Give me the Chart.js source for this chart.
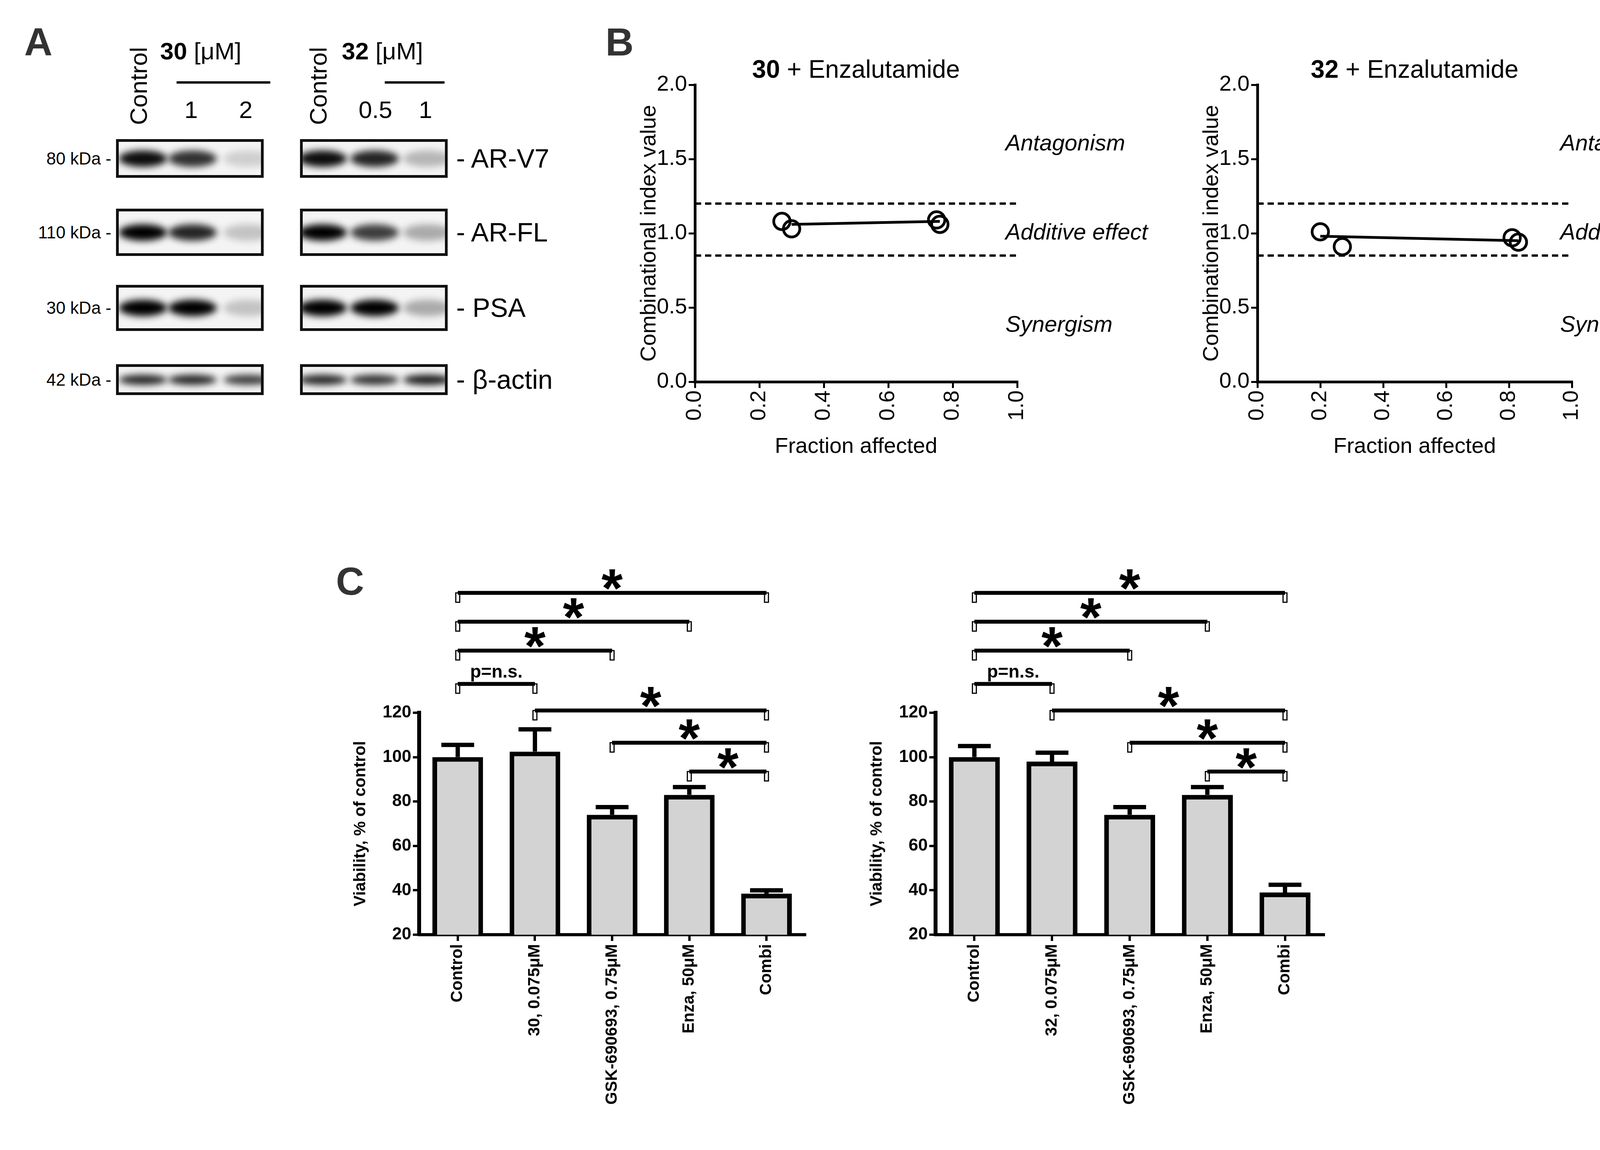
<!DOCTYPE html>
<html>
<head>
<meta charset="utf-8">
<script src="https://cdn.jsdelivr.net/npm/chart.js@4.4.1/dist/chart.umd.min.js"></script>
<style>
  body { margin: 0; width: 4406px; height: 2943px; background: #fff; position: relative; overflow: hidden;
         font-family: "Liberation Sans", Arial, sans-serif; color: #000; }
  .abs { position: absolute; white-space: nowrap; }
  canvas { position: absolute; }
  .box { position: absolute; border: 7px solid #111; background: #f4f4f4; overflow: hidden; box-sizing: border-box; }
  .band { position: absolute; border-radius: 50%; filter: blur(9px); }
</style>
</head>
<body>
<script>
// ============================================
// DATA
// ============================================
// Panel B - combination index
const ciFa30 = [0.27, 0.30, 0.75, 0.76];
const ciVal30 = [1.08, 1.03, 1.09, 1.06];
const ciFitFa30 = [0.30, 0.76];
const ciFitVal30 = [1.06, 1.08];
const ciFa32 = [0.20, 0.27, 0.81, 0.83];
const ciVal32 = [1.01, 0.91, 0.97, 0.94];
const ciFitFa32 = [0.20, 0.83];
const ciFitVal32 = [0.98, 0.95];
const ciBounds = [1.2, 0.85];
const ciTicksY = [0, 0.5, 1.0, 1.5, 2.0];

// Panel C - viability
const viabLabels30 = ['Control', '30, 0.075\u03BCM', 'GSK-690693, 0.75\u03BCM', 'Enza, 50\u03BCM', 'Combi'];
const viabLabels32 = ['Control', '32, 0.075\u03BCM', 'GSK-690693, 0.75\u03BCM', 'Enza, 50\u03BCM', 'Combi'];
const viab30 = [100, 102.5, 74, 83, 38.5];
const viabErr30 = [5.5, 10, 3.5, 3.5, 1.5];
const viab32 = [100, 98, 74, 83, 39];
const viabErr32 = [5, 4, 3.5, 3.5, 3.5];
// brackets: [from, to, level (y value), label]
const brackets = [
  [0, 4, 174, '*'], [0, 3, 161, '*'], [0, 2, 148, '*'], [0, 1, 133, 'p=n.s.'],
  [1, 4, 121, '*'], [2, 4, 106.5, '*'], [3, 4, 93.5, '*']
];

// Panel A - blots (band intensity per lane)
const blotRows = ['AR-V7', 'AR-FL', 'PSA', '\u03B2-actin'];
const blotMw = ['80 kDa -', '110 kDa -', '30 kDa -', '42 kDa -'];
const blot30 = [[0.95, 0.8, 0.15], [1, 0.85, 0.2], [1, 1, 0.2], [0.85, 0.85, 0.75]];
const blot32 = [[0.95, 0.85, 0.25], [1, 0.75, 0.3], [1, 1, 0.3], [0.85, 0.8, 0.9]];

// ============================================
// HELPERS
// ============================================
function text(str, x, y, css) {
  const d = document.createElement('div');
  d.className = 'abs';
  d.innerHTML = str;
  d.style.cssText += `left:${x}px;top:${y}px;` + (css || '');
  document.body.appendChild(d);
  return d;
}

function makeCanvas(plot, yW, padTop, padRight, xH) {
  const c = document.createElement('canvas');
  const w = yW + plot.w + padRight, h = padTop + plot.h + xH;
  c.style.left = (plot.x - yW) + 'px';
  c.style.top = (plot.y - padTop) + 'px';
  c.style.width = w + 'px';
  c.style.height = h + 'px';
  c.width = w; c.height = h;
  document.body.appendChild(c);
  return c;
}

Chart.defaults.font.family = '"Liberation Sans", Arial, sans-serif';
Chart.defaults.color = '#000';
Chart.defaults.animation = false;
Chart.defaults.devicePixelRatio = 1;

// ============================================
// PANEL A - western blots
// ============================================
text('A', 62, 50, 'font-size:100px;font-weight:bold;color:#333;');
const rowTops = [356, 534, 729, 932];
const rowHeights = [99, 121, 118, 79];
function drawBlot(boxX, lanes, data, label, labelX, lineX, doses, dosesX) {
  text('Control', lanes[0] - 40, 320, 'font-size:62px;transform-origin:0 0;transform:rotate(-90deg);');
  text(label, labelX, 95, 'font-size:62px;');
  const ul = document.createElement('div');
  ul.style.cssText = `position:absolute;left:${lineX[0]}px;top:208px;width:${lineX[1] - lineX[0]}px;height:6px;background:#000;`;
  document.body.appendChild(ul);
  doses.forEach((d, i) => text(d, dosesX[i], 245, 'font-size:62px;'));
  data.forEach((row, r) => {
    const box = document.createElement('div');
    box.className = 'box';
    box.style.cssText += `left:${boxX}px;top:${rowTops[r]}px;width:378px;height:${rowHeights[r]}px;`;
    row.forEach((v, i) => {
      const b = document.createElement('div');
      b.className = 'band';
      const bh = r === 3 ? 26 : 42;
      b.style.cssText += `left:${lanes[i] - boxX - 62}px;top:${rowHeights[r] / 2 - bh / 2 - 7}px;width:124px;height:${bh}px;background:rgba(0,0,0,${v});`;
      box.appendChild(b);
    });
    document.body.appendChild(box);
  });
}
drawBlot(297, [359, 486, 627], blot30, '<b>30</b> [\u03BCM]', 410, [452, 692], ['1', '2'], [472, 612]);
drawBlot(768, [819, 952, 1087], blot32, '<b>32</b> [\u03BCM]', 875, [985, 1138], ['0.5', '1'], [918, 1072]);
blotRows.forEach((n, r) => {
  text(blotMw[r], 0, rowTops[r] + rowHeights[r] / 2 - 25, 'font-size:44px;width:285px;text-align:right;');
  text('- ' + n, 1168, rowTops[r] + rowHeights[r] / 2 - 40, 'font-size:68px;');
});

// ============================================
// PANEL B - combination index plots
// ============================================
text('B', 1550, 50, 'font-size:100px;font-weight:bold;color:#333;');

const labelPlugin = {
  id: 'ciLabels',
  afterDraw(chart) {
    const { ctx, chartArea } = chart;
    const y = chart.scales.y;
    ctx.save();
    ctx.font = 'italic 58px "Liberation Sans", Arial, sans-serif';
    ctx.fillStyle = '#000';
    ctx.textBaseline = 'middle';
    [['Antagonism', 1.6], ['Additive effect', 1.0], ['Synergism', 0.38]].forEach(([t, v]) => {
      ctx.fillText(t, chartArea.right - 30, y.getPixelForValue(v));
    });
    ctx.restore();
  }
};

function ciChart(plot, fa, ci, fitFa, fitCi, title) {
  const c = makeCanvas(plot, 150, 40, 520, 200);
  const pts = fa.map((x, i) => ({ x, y: ci[i] }));
  const fit = fitFa.map((x, i) => ({ x, y: fitCi[i] }));
  const dashSets = ciBounds.map(b => ({
    data: [{ x: 0, y: b }, { x: 1, y: b }], showLine: true, borderColor: '#000',
    borderWidth: 6, borderDash: [16, 10], pointRadius: 0
  }));
  new Chart(c, {
    type: 'scatter',
    data: {
      datasets: [
        ...dashSets,
        { data: fit, showLine: true, borderColor: '#000', borderWidth: 7, pointRadius: 0 },
        { data: pts, pointRadius: 21, pointBorderWidth: 7, pointBorderColor: '#000', pointBackgroundColor: 'rgba(255,255,255,0)' }
      ]
    },
    options: {
      responsive: false, clip: false,
      layout: { padding: { top: 40, right: 520 } },
      plugins: { legend: { display: false }, tooltip: { enabled: false } },
      scales: {
        x: {
          type: 'linear', min: 0, max: 1,
          afterBuildTicks: s => { s.ticks = [0, 0.2, 0.4, 0.6, 0.8, 1].map(v => ({ value: v })); },
          afterFit: s => { s.height = 200; },
          ticks: { minRotation: 90, maxRotation: 90, font: { size: 56 }, callback: v => v.toFixed(1), padding: 6 },
          grid: { drawOnChartArea: false, tickLength: 16, color: '#000', lineWidth: 5 },
          border: { color: '#000', width: 7 },
          title: { display: true, text: 'Fraction affected', font: { size: 56 }, padding: 0 }
        },
        y: {
          min: 0, max: 2,
          afterBuildTicks: s => { s.ticks = ciTicksY.map(v => ({ value: v })); },
          afterFit: s => { s.width = 150; },
          ticks: { font: { size: 56 }, callback: v => v.toFixed(1), padding: 4 },
          grid: { drawOnChartArea: false, tickLength: 16, color: '#000', lineWidth: 5 },
          border: { color: '#000', width: 7 },
          title: { display: true, text: 'Combinational index value', font: { size: 56 }, padding: 0 }
        }
      }
    },
    plugins: [labelPlugin]
  });
  text(title, plot.x + plot.w / 2 - 280, 140, 'font-size:64px;width:560px;text-align:center;');
}
ciChart({ x: 1779, y: 217, w: 825, h: 760 }, ciFa30, ciVal30, ciFitFa30, ciFitVal30, '<b>30</b> + Enzalutamide');
ciChart({ x: 3219, y: 217, w: 805, h: 760 }, ciFa32, ciVal32, ciFitFa32, ciFitVal32, '<b>32</b> + Enzalutamide');

// ============================================
// PANEL C - viability bar charts
// ============================================
text('C', 860, 1430, 'font-size:100px;font-weight:bold;color:#333;');

const bracketPlugin = {
  id: 'extras',
  afterDatasetsDraw(chart) {
    const { ctx } = chart;
    const x = chart.scales.x, y = chart.scales.y;
    const meta = chart.getDatasetMeta(0);
    const errs = chart.options.plugins.extras.errors;
    ctx.save();
    ctx.strokeStyle = '#000';
    ctx.fillStyle = '#000';
    // error bars (upper only)
    meta.data.forEach((bar, i) => {
      const v = chart.data.datasets[0].data[i];
      const top = y.getPixelForValue(v + errs[i]);
      ctx.lineWidth = 11;
      ctx.beginPath();
      ctx.moveTo(bar.x, bar.y);
      ctx.lineTo(bar.x, top);
      ctx.stroke();
      ctx.beginPath();
      ctx.moveTo(bar.x - 42, top);
      ctx.lineTo(bar.x + 42, top);
      ctx.stroke();
    });
    // significance brackets
    brackets.forEach(([a, b, lvl, lab]) => {
      const x0 = x.getPixelForValue(a), x1 = x.getPixelForValue(b);
      const py = y.getPixelForValue(lvl);
      ctx.lineWidth = 10;
      ctx.beginPath();
      ctx.moveTo(x0, py);
      ctx.lineTo(x1, py);
      ctx.stroke();
      ctx.lineWidth = 3;
      ctx.strokeRect(x0 - 5, py, 10, 24);
      ctx.strokeRect(x1 - 5, py, 10, 24);
      ctx.textAlign = 'center';
      ctx.textBaseline = 'alphabetic';
      if (lab === '*') {
        ctx.font = 'bold 140px "Liberation Sans", Arial, sans-serif';
        const m = ctx.measureText('*');
        ctx.fillText('*', (x0 + x1) / 2, py - 8 - m.actualBoundingBoxDescent);
      } else {
        ctx.font = 'bold 46px "Liberation Sans", Arial, sans-serif';
        ctx.fillText(lab, (x0 + x1) / 2, py - 16);
      }
    });
    ctx.restore();
  }
};

function viabChart(plot, labels, vals, errs) {
  const c = makeCanvas(plot, 175, 420, 40, 520);
  new Chart(c, {
    type: 'bar',
    data: {
      labels,
      datasets: [{
        data: vals, backgroundColor: '#d3d3d3', borderColor: '#000', borderWidth: 12,
        borderSkipped: 'bottom', barPercentage: 0.82, categoryPercentage: 0.8
      }]
    },
    options: {
      responsive: false,
      layout: { padding: { top: 420, right: 40 } },
      plugins: { legend: { display: false }, tooltip: { enabled: false }, extras: { errors: errs } },
      scales: {
        x: {
          afterFit: s => { s.height = 520; },
          ticks: { minRotation: 90, maxRotation: 90, font: { size: 42, weight: 'bold' }, padding: 8 },
          grid: { offset: false, drawOnChartArea: false, tickLength: 16, color: '#000', lineWidth: 6 },
          border: { color: '#000', width: 8 }
        },
        y: {
          min: 20, max: 120,
          afterFit: s => { s.width = 175; },
          ticks: { stepSize: 20, font: { size: 44, weight: 'bold' }, padding: 4 },
          grid: { drawOnChartArea: false, tickLength: 16, color: '#000', lineWidth: 6 },
          border: { color: '#000', width: 10 },
          title: { display: true, text: 'Viability, % of control', font: { size: 42, weight: 'bold' }, padding: 0 }
        }
      }
    },
    plugins: [bracketPlugin]
  });
}
viabChart({ x: 1073, y: 1824, w: 988, h: 568 }, viabLabels30, viab30, viabErr30);
viabChart({ x: 2395, y: 1824, w: 994, h: 568 }, viabLabels32, viab32, viabErr32);
</script>
</body>
</html>
